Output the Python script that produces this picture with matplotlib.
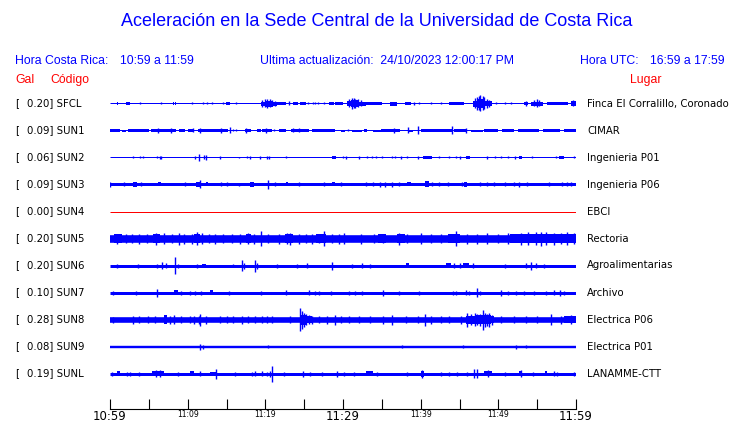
import matplotlib
matplotlib.use("Agg")
import matplotlib.pyplot as plt

W, H = 740, 423

# station info
codes = ["SFCL", "SUN1", "SUN2", "SUN3", "SUN4", "SUN5", "SUN6", "SUN7", "SUN8", "SUN9", "SUNL"]
peaks = ["0.20", "0.09", "0.06", "0.09", "0.00", "0.20", "0.20", "0.10", "0.28", "0.08", "0.19"]
places = ["Finca El Corralillo, Coronado", "CIMAR", "Ingenieria P01", "Ingenieria P06", "EBCI",
          "Rectoria", "Agroalimentarias", "Archivo", "Electrica P06", "Electrica P01", "LANAMME-CTT"]
# background noise half-width of each trace
base_half = [0.5, 0.5, 0.5, 1.5, 0.5, 3.8, 1.5, 1.5, 2.8, 1.2, 1.5]

# (minute, half amplitude) spikes and (start, end, half amplitude) bursts
sfcl_spikes = [(3.9, 1.0), (6.6, 1.0), (10.5, 1.0), (12.0, 1.0), (12.5, 1.0), (13.1, 1.0), (14.5, 1.0),
               (16.2, 1.0), (19.6, 3.5), (20.0, 4.0), (20.2, 4.3), (20.6, 4.0), (20.9, 3.0), (21.2, 2.5),
               (23.1, 2.0), (25.5, 1.0), (26.1, 1.0), (26.4, 1.0), (26.8, 1.0), (27.5, 1.0),
               (30.8, 4.0), (31.2, 5.7), (31.4, 5.0), (31.6, 4.5), (31.9, 4.0), (32.3, 3.0),
               (39.2, 1.5), (39.8, 1.0), (41.3, 1.0), (42.6, 1.0),
               (47.0, 5.0), (47.3, 6.5), (47.5, 7.0), (47.7, 8.0), (48.0, 7.0), (48.2, 6.0), (48.5, 4.5),
               (48.8, 3.5), (49.7, 1.0), (50.8, 1.0), (51.6, 1.0), (53.6, 2.5), (54.6, 3.0), (55.0, 4.0),
               (55.3, 3.0), (59.6, 3.0)]
sfcl_blocks = [(0.9, 1.0, 1.5), (2.0, 2.6, 1.5), (7.8, 7.9, 1.5), (8.1, 8.2, 1.5), (8.4, 8.5, 1.5),
               (14.9, 15.4, 1.5), (19.5, 20.0, 2.0), (20.0, 21.0, 3.0), (21.0, 21.5, 2.0), (21.5, 22.6, 1.5),
               (23.5, 24.2, 1.8), (24.5, 25.2, 1.5), (28.2, 28.8, 1.5), (29.0, 30.0, 1.5), (30.5, 31.0, 2.5),
               (31.0, 32.0, 3.5), (32.0, 32.9, 2.0), (32.9, 35.0, 1.5), (36.1, 37.0, 2.0), (38.0, 38.7, 1.5),
               (43.6, 45.6, 1.5), (46.7, 47.3, 3.0), (47.3, 48.3, 4.5), (48.3, 49.2, 2.5), (53.3, 53.8, 1.5),
               (54.2, 55.8, 2.0), (56.3, 59.0, 1.5), (59.3, 60.0, 2.5)]

sun1_spikes = [(6.2, 2.5), (7.8, 2.5), (10.7, 2.0), (11.6, 2.5), (14.3, 2.5), (15.4, 3.0), (15.8, 1.0),
               (16.2, 1.0), (17.5, 2.5), (20.1, 2.5), (21.1, 1.0), (23.6, 2.0), (24.3, 2.0), (30.7, 1.0),
               (36.6, 2.5), (38.4, 3.0), (39.6, 4.0), (44.0, 4.0), (45.8, 2.5)]
sun1_blocks = [(0.0, 1.3, 1.5), (1.5, 2.0, 1.0), (2.3, 5.0, 1.5), (5.3, 6.0, 1.2), (6.0, 8.5, 1.5),
               (8.9, 9.6, 1.2), (10.0, 10.7, 1.5), (11.3, 15.2, 1.5), (17.4, 18.2, 1.5), (18.9, 19.4, 1.5),
               (19.6, 20.8, 1.5), (21.8, 22.7, 1.5), (23.3, 25.6, 1.5), (26.0, 26.7, 1.2), (26.7, 29.0, 1.5),
               (29.7, 30.3, 1.0), (31.2, 32.4, 1.0), (32.7, 33.1, 1.5), (33.8, 34.9, 1.0), (34.9, 37.3, 1.5),
               (38.5, 39.0, 1.0), (40.0, 44.0, 1.5), (44.3, 45.8, 1.5), (46.5, 48.0, 1.0), (48.2, 50.0, 1.5),
               (50.5, 52.0, 1.5), (52.5, 55.3, 1.5), (55.8, 58.0, 1.5), (58.5, 60.0, 1.5)]

sun2_spikes = [(2.9, 1.0), (3.9, 1.0), (4.3, 1.0), (6.0, 1.0), (6.4, 1.5), (6.6, 1.5), (10.9, 1.5),
               (11.5, 3.3), (12.1, 2.0), (12.3, 2.5), (14.2, 1.5), (16.6, 0.8), (17.6, 1.0), (18.0, 1.5),
               (19.3, 1.5), (20.2, 1.5), (20.5, 1.5), (22.6, 1.0), (30.0, 1.0), (30.4, 1.5), (32.0, 1.5),
               (33.1, 1.0), (33.7, 1.0), (34.3, 1.0), (35.0, 1.0), (36.3, 1.0), (36.7, 1.0), (37.5, 1.5),
               (38.3, 1.0), (39.7, 1.5), (42.4, 1.0), (43.7, 1.0), (44.5, 1.0), (45.0, 1.5), (48.5, 1.5),
               (49.6, 1.0), (50.3, 1.0), (51.2, 1.0), (52.1, 1.5), (54.3, 1.0), (57.4, 1.0), (59.7, 1.0)]
sun2_blocks = [(28.6, 29.1, 1.5), (40.3, 41.5, 1.2), (45.8, 46.3, 1.5), (52.7, 53.0, 1.5), (57.8, 58.4, 1.5)]

sun3_spikes = [(0.0, 2.5), (1.8, 2.0), (4.0, 2.0), (9.7, 2.0), (11.6, 4.0), (14.3, 2.0), (15.0, 2.0),
               (16.6, 1.8), (20.3, 4.5), (21.2, 2.0), (24.3, 2.0), (27.6, 2.0), (29.7, 2.0), (33.0, 2.0),
               (33.8, 2.0), (34.8, 2.2), (35.4, 2.2), (36.3, 2.2), (37.2, 2.0), (41.5, 2.0), (42.3, 2.0),
               (43.5, 2.0), (45.3, 2.0), (47.6, 2.0), (48.6, 2.0), (49.5, 2.0), (50.9, 2.0), (52.0, 2.0),
               (52.6, 2.5), (53.7, 2.0), (56.5, 2.0), (58.2, 2.0), (58.8, 2.0), (59.4, 2.0)]
sun3_blocks = [(3.0, 3.5, 2.5), (6.2, 6.6, 2.0), (11.1, 11.6, 2.5), (12.3, 12.6, 2.0), (18.0, 18.6, 2.5),
               (22.6, 22.9, 2.0), (28.6, 29.0, 2.0), (38.3, 38.7, 2.0), (40.6, 41.1, 3.0), (45.6, 46.0, 2.2)]

sun4_spikes = []
sun4_blocks = []

sun5_spikes = [(0.9, 5.0), (2.0, 4.5), (2.8, 4.5), (3.7, 5.0), (4.7, 4.5), (5.9, 6.0), (7.0, 5.5), (8.0, 4.5),
               (8.9, 6.0), (9.5, 5.0), (10.6, 5.0), (11.2, 6.5), (11.8, 5.5), (12.7, 4.5), (13.5, 5.0),
               (14.6, 4.5), (15.7, 4.5), (16.8, 5.0), (17.8, 5.5), (18.5, 5.0), (19.4, 7.8), (20.4, 4.5),
               (21.7, 5.0), (22.8, 5.5), (23.2, 6.0), (24.3, 5.0), (25.2, 4.5), (26.0, 5.0), (26.9, 4.5),
               (27.5, 7.3), (28.6, 4.5), (29.5, 5.0), (30.1, 5.5), (32.3, 5.0), (34.0, 4.5), (35.1, 4.5),
               (37.2, 6.0), (38.3, 4.5), (40.0, 5.5), (41.3, 4.5), (42.6, 4.5), (44.5, 7.8), (46.0, 5.0),
               (47.3, 5.0), (48.6, 5.5), (49.9, 4.5), (51.2, 5.5), (52.9, 6.0), (53.8, 6.5), (54.8, 6.5),
               (55.5, 7.0), (56.1, 6.5), (57.2, 6.0), (58.1, 5.5), (58.9, 6.5), (59.8, 5.5)]
sun5_blocks = [(0.5, 1.5, 4.5), (5.5, 6.5, 4.6), (10.8, 11.6, 4.5), (17.5, 18.2, 4.5), (22.5, 23.5, 4.6),
               (26.5, 27.8, 4.5), (34.5, 35.5, 4.4), (37.0, 38.0, 4.5), (43.5, 45.0, 4.5), (51.5, 60.0, 4.7)]

sun6_spikes = [(0.9, 2.0), (3.6, 2.0), (6.0, 2.0), (6.7, 3.5), (7.2, 2.5), (8.4, 8.3), (8.8, 2.0), (11.2, 2.0),
               (15.9, 1.8), (17.0, 5.5), (17.3, 3.0), (18.7, 6.0), (18.9, 3.0), (21.5, 2.0), (24.1, 2.0),
               (25.4, 2.5), (28.6, 4.0), (31.2, 2.0), (32.5, 2.5), (33.5, 2.0), (44.3, 2.5), (45.0, 2.5),
               (46.7, 2.5), (50.8, 2.0), (53.6, 2.5), (54.2, 4.0), (54.8, 2.5), (55.9, 2.0)]
sun6_blocks = [(11.8, 12.4, 1.8), (38.1, 38.5, 2.5), (43.2, 43.9, 2.5), (45.4, 46.2, 2.5)]

sun7_spikes = [(0.4, 2.0), (3.4, 2.0), (6.0, 4.0), (9.2, 2.0), (10.3, 2.0), (11.0, 2.0), (11.7, 2.0),
               (15.3, 2.0), (19.4, 2.0), (22.6, 2.5), (25.6, 2.5), (26.4, 2.0), (26.9, 2.0), (28.4, 2.0),
               (30.8, 2.0), (31.6, 2.0), (32.5, 2.0), (35.1, 3.0), (37.2, 2.0), (39.8, 2.0), (44.1, 2.0),
               (44.5, 2.0), (45.8, 2.5), (46.2, 2.0), (47.2, 4.5), (47.7, 2.0), (50.3, 3.0), (51.2, 2.0),
               (52.3, 2.0), (53.3, 2.0), (54.6, 2.0), (56.1, 2.0), (57.2, 2.5), (57.9, 3.0), (58.5, 2.0)]
sun7_blocks = [(8.2, 8.8, 2.5), (12.9, 13.2, 2.5)]

sun8_spikes = [(0.4, 3.0), (3.0, 4.0), (3.7, 3.5), (4.9, 3.5), (5.8, 3.5), (7.7, 4.0), (8.2, 4.5), (9.2, 3.5),
               (10.3, 3.5), (10.8, 4.0), (11.4, 4.0), (11.6, 6.0), (12.3, 4.0), (14.2, 3.5), (15.1, 3.5),
               (15.9, 3.5), (17.0, 4.0), (17.8, 3.5), (18.7, 3.5), (19.6, 3.5), (20.2, 3.5), (20.9, 3.5),
               (23.2, 3.5), (24.5, 11.7), (24.7, 9.0), (25.0, 7.0), (25.3, 5.5), (25.6, 4.5), (26.0, 4.0),
               (26.9, 3.5), (28.0, 4.0), (29.0, 5.0), (29.7, 3.5), (30.8, 3.5), (32.0, 3.5), (33.5, 3.5),
               (35.1, 4.0), (36.3, 5.0), (38.1, 3.5), (39.6, 3.5), (40.6, 6.0), (41.3, 4.0), (42.6, 3.5),
               (43.7, 3.5), (45.2, 4.0), (46.0, 7.0), (46.5, 5.5), (47.0, 6.5), (47.3, 5.5), (47.6, 6.0),
               (48.0, 10.0), (48.3, 7.0), (48.5, 6.0), (48.8, 7.0), (49.2, 5.0), (50.3, 3.5), (52.0, 3.5),
               (53.5, 3.5), (55.0, 3.5), (56.8, 5.5), (58.1, 4.0), (59.4, 4.5)]
sun8_blocks = [(6.9, 7.3, 4.5), (24.5, 25.2, 5.0), (25.2, 26.0, 3.8), (45.8, 47.0, 4.0), (47.0, 49.0, 4.5),
               (49.0, 49.5, 3.6), (58.5, 60.0, 3.5)]

sun9_spikes = [(11.6, 3.0), (12.0, 2.0), (20.3, 1.8), (37.6, 1.8), (45.5, 1.8), (52.3, 2.0), (53.5, 1.8)]
sun9_blocks = []

sunl_spikes = [(0.2, 2.0), (2.2, 2.0), (2.6, 2.0), (3.7, 2.0), (5.9, 3.5), (6.5, 3.5), (8.8, 2.0), (11.6, 2.5),
               (13.7, 5.0), (16.1, 2.0), (18.3, 2.0), (18.7, 2.5), (19.6, 2.5), (20.2, 2.0), (20.6, 3.0),
               (20.9, 8.0), (22.4, 2.0), (24.9, 3.0), (25.8, 2.0), (27.3, 2.0), (29.2, 3.0), (30.1, 2.0),
               (31.4, 2.0), (34.4, 2.0), (38.3, 2.0), (40.2, 4.0), (42.6, 2.0), (43.7, 2.0), (44.7, 2.0),
               (46.0, 2.0), (46.9, 4.5), (47.2, 4.5), (48.7, 3.5), (50.8, 2.0), (52.9, 3.5), (54.4, 2.0),
               (57.2, 2.5), (57.6, 2.0), (59.8, 2.0)]
sunl_blocks = [(0.9, 1.3, 2.5), (5.4, 6.9, 2.3), (10.3, 10.8, 2.3), (12.9, 13.8, 2.0), (32.9, 33.8, 2.5),
               (40.0, 40.4, 3.0), (48.2, 49.2, 2.3), (52.7, 53.1, 2.5), (56.0, 56.3, 2.5)]

all_spikes = [sfcl_spikes, sun1_spikes, sun2_spikes, sun3_spikes, sun4_spikes, sun5_spikes,
              sun6_spikes, sun7_spikes, sun8_spikes, sun9_spikes, sunl_spikes]
all_blocks = [sfcl_blocks, sun1_blocks, sun2_blocks, sun3_blocks, sun4_blocks, sun5_blocks,
              sun6_blocks, sun7_blocks, sun8_blocks, sun9_blocks, sunl_blocks]

tick_minutes = list(range(0, 61, 5))
tick_labels = ["10:59", "", "11:09", "", "11:19", "", "11:29", "", "11:39", "", "11:49", "", "11:59"]
big_ticks = ["10:59", "11:29", "11:59"]

BLUE = "#0000ff"
RED = "#ff0000"
SANS = "Liberation Sans"


def fpos(x, y):
    return x / W, 1 - y / H


fig = plt.figure(figsize=(W / 100, H / 100), dpi=100)

# header texts
fig.text(*fpos(377, 22), "Aceleración en la Sede Central de la Universidad de Costa Rica",
         color=BLUE, fontsize=13, family=SANS, ha="center", va="center")
fig.text(*fpos(15, 61), "Hora Costa Rica:", color=BLUE, fontsize=8.8, family=SANS, va="center")
fig.text(*fpos(120, 61), "10:59 a 11:59", color=BLUE, fontsize=8.8, family=SANS, va="center")
fig.text(*fpos(260, 61), "Ultima actualización:  24/10/2023 12:00:17 PM", color=BLUE, fontsize=8.8,
         family=SANS, va="center")
fig.text(*fpos(580, 61), "Hora UTC:", color=BLUE, fontsize=8.8, family=SANS, va="center")
fig.text(*fpos(650, 61), "16:59 a 17:59", color=BLUE, fontsize=8.8, family=SANS, va="center")
fig.text(*fpos(15, 80), "Gal", color=RED, fontsize=8.8, family=SANS, va="center")
fig.text(*fpos(50, 80), "Código", color=RED, fontsize=8.8, family=SANS, va="center")
fig.text(*fpos(630, 80), "Lugar", color=RED, fontsize=8.8, family=SANS, va="center")

# traces, y in pixel-like units so amplitudes
ax = fig.add_axes([110 / W, (H - 390) / H, 466 / W, 302 / H])
ax.set_xlim(0, 60)
ax.set_ylim(390, 88)
ax.axis("off")

for i, code in enumerate(codes):
    yc = 103.5 + 27 * i
    col = RED if code == "SUN4" else BLUE
    ax.hlines(yc, 0, 60, color=col, lw=max(2 * base_half[i], 1) * 0.72)
    for t0, t1, a in all_blocks[i]:
        ax.fill_between([t0, t1], yc - a, yc + a, color=col, lw=0)
    for t, a in all_spikes[i]:
        ax.vlines(t, yc - a, yc + a, color=col, lw=1.0)
    fig.text(*fpos(15, yc), "[", fontsize=7.3, family="DejaVu Sans", va="center", color="black")
    fig.text(*fpos(27, yc), f"{peaks[i]}] {code}", fontsize=7.3, family="DejaVu Sans",
             va="center", color="black")
    fig.text(*fpos(587, yc), places[i], fontsize=7.3, family="DejaVu Sans", va="center", color="black")

# time axis
ax2 = fig.add_axes([110 / W, (H - 409) / H, 466 / W, 0.5 / H])
ax2.set_xlim(0, 60)
ax2.set_yticks([])
for s in ["top", "left", "right"]:
    ax2.spines[s].set_visible(False)
ax2.spines["bottom"].set_linewidth(0.8)
ax2.set_xticks(tick_minutes)
ax2.set_xticklabels(tick_labels)
ax2.tick_params(axis="x", direction="in", length=7.5, width=0.8, pad=1)
for lab in ax2.get_xticklabels():
    if lab.get_text() in big_ticks:
        lab.set_fontsize(8.5)
    else:
        lab.set_fontsize(5.5)
    lab.set_family("DejaVu Sans")

fig.savefig("out.png", dpi=100)
